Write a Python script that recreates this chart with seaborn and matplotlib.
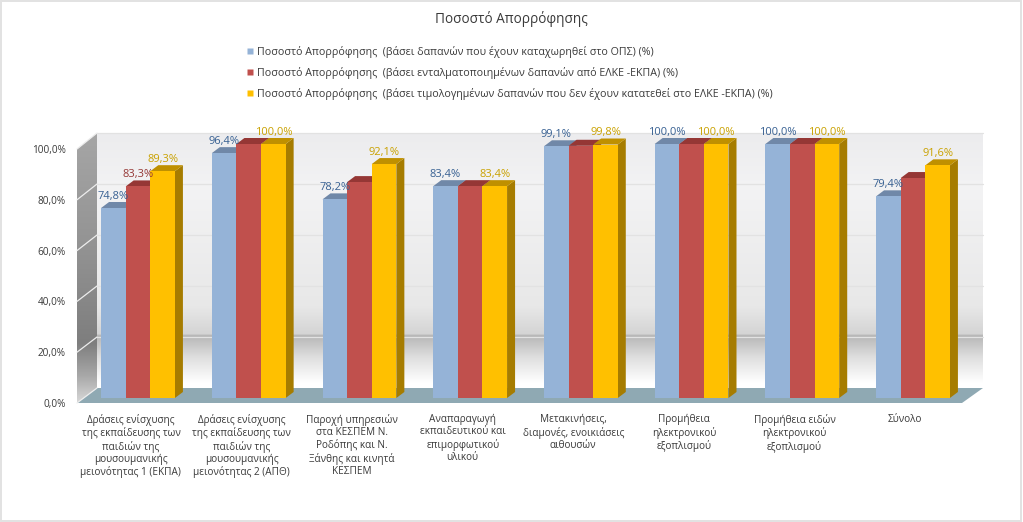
import numpy as np
import pandas as pd
import matplotlib
matplotlib.use("Agg")
import matplotlib.pyplot as plt
from matplotlib.colors import LinearSegmentedColormap
from matplotlib.patches import Polygon, Rectangle
from matplotlib.lines import Line2D
import seaborn as sns

categories = [
    "Δράσεις ενίσχυσης\nτης εκπαίδευσης των\nπαιδιών της\nμουσουμανικής\nμειονότητας 1 (ΕΚΠΑ)",
    "Δράσεις ενίσχυσης\nτης εκπαίδευσης των\nπαιδιών της\nμουσουμανικής\nμειονότητας 2 (ΑΠΘ)",
    "Παροχή υπηρεσιών\nστα ΚΕΣΠΕΜ Ν.\nΡοδόπης και Ν.\nΞάνθης και κινητά\nΚΕΣΠΕΜ",
    "Αναπαραγωγή\nεκπαιδευτικού και\nεπιμορφωτικού\nυλικού",
    "Μετακινήσεις,\nδιαμονές, ενοικιάσεις\nαιθουσών",
    "Προμήθεια\nηλεκτρονικού\nεξοπλισμού",
    "Προμήθεια ειδών\nηλεκτρονικού\nεξοπλισμού",
    "Σύνολο",
]
series_names = [
    "Ποσοστό Απορρόφησης  (βάσει δαπανών που έχουν καταχωρηθεί στο ΟΠΣ) (%)",
    "Ποσοστό Απορρόφησης  (βάσει ενταλματοποιημένων δαπανών από ΕΛΚΕ -ΕΚΠΑ) (%)",
    "Ποσοστό Απορρόφησης  (βάσει τιμολογημένων δαπανών που δεν έχουν κατατεθεί στο ΕΛΚΕ -ΕΚΠΑ) (%)",
]
values_ops = [74.8, 96.4, 78.2, 83.4, 99.1, 100.0, 100.0, 79.4]
values_elke = [83.3, 100.0, 85.0, 83.4, 99.3, 100.0, 100.0, 86.6]
values_invoiced = [89.3, 100.0, 92.1, 83.4, 99.8, 100.0, 100.0, 91.6]
# which labels the original chart shows for each series
labelled = [[True] * 8, [True] + [False] * 7, [True] * 8]
y_ticks = [0, 20, 40, 60, 80, 100]
title = "Ποσοστό Απορρόφησης"

front_cols = ["#95B3D7", "#C0504D", "#FFC000"]
top_cols = ["#7088A8", "#953735", "#BF9000"]
side_cols = ["#7088A8", "#8F3A38", "#A67C00"]
label_cols = ["#376092", "#953735", "#C9A100"]
text_col = "#3A3A3A"
FONT = "Open Sans"

W, H = 1023, 522
sns.set_theme(style="white")
plt.rcParams["font.family"] = [FONT, "DejaVu Sans"]
fig = plt.figure(figsize=(W / 100, H / 100), dpi=100, facecolor="white")


def axes_px(x0, x1, ytop, ybot):
    return fig.add_axes([x0 / W, 1 - ybot / H, (x1 - x0) / W, (ybot - ytop) / H])


# ---- backdrop (pixel coordinates)
bg = fig.add_axes([0, 0, 1, 1], zorder=0)
bg.set_xlim(0, W)
bg.set_ylim(H, 0)
bg.axis("off")
bg.add_patch(Rectangle((0.5, 0.5), W - 2.5, H - 2, fill=False, ec="#E2E2E2", lw=1.4))

wall_x0, wall_x1, wall_top, wall_bot = 97, 983, 133, 388
wall_cm = LinearSegmentedColormap.from_list(
    "wall",
    [(0, "#ECECEE"), (0.22, "#F3F3F4"), (0.68, "#E8E8E8"), (0.79, "#D4D4D4"),
     (0.795, "#B6B6B6"), (0.88, "#DEDEDE"), (0.98, "#FFFFFF"), (1, "#FFFFFF")],
)
bg.imshow(np.linspace(0, 1, 256)[:, None], cmap=wall_cm, aspect="auto",
          extent=(wall_x0, wall_x1, wall_bot, wall_top), zorder=1)
side_cm = LinearSegmentedColormap.from_list(
    "side",
    [(0, "#A6A6A6"), (0.4, "#949494"), (0.78, "#7E7E7E"), (0.9, "#A8A8A8"), (1, "#D8D8D8")],
)
im = bg.imshow(np.linspace(0, 1, 256)[:, None], cmap=side_cm, aspect="auto",
               extent=(77, 97, 403, 133), zorder=1)
im.set_clip_path(Polygon([(77, 149), (97, 133), (97, 388), (77, 403)],
                         transform=bg.transData))
bg.add_patch(Polygon([(77, 403), (962, 403), (983, 388), (97, 388)],
                     fc="#8FA9B3", ec="none", zorder=2))
bg.set_xlim(0, W)
bg.set_ylim(H, 0)
for frac in y_ticks:
    yb = wall_bot - (wall_bot - wall_top) * frac / 100
    yf = 403 - 254 * frac / 100
    if frac:
        bg.plot([wall_x0, wall_x1], [yb, yb], color="#E2E2E2", lw=0.9, zorder=2)
    bg.plot([77, wall_x0], [yf, yb], color="#EDEDED", lw=0.9, zorder=3)

# ---- front plane: tick labels
x_step = (913 - 138) / 7
front = axes_px(131 - x_step / 2, 905 + x_step / 2, 149, 403)
front.patch.set_alpha(0)
front.set_zorder(1)
front.set_xlim(-0.5, len(categories) - 0.5)
front.set_ylim(0, 100)
front.set_yticks(y_ticks, [f"{t:.1f}%".replace(".", ",") for t in y_ticks])
front.set_xticks(range(len(categories)), categories, linespacing=1.14)
front.tick_params(axis="y", length=0, pad=7, labelsize=7.2, labelcolor=text_col)
front.tick_params(axis="x", length=0, pad=8, labelsize=7.2, labelcolor=text_col)
for s in front.spines.values():
    s.set_visible(False)
front.grid(False)

# ---- bars
ax = axes_px(138 - x_step / 2, 913 + x_step / 2, 144, 398)
ax.patch.set_alpha(0)
ax.set_zorder(2)
df = pd.DataFrame({
    "category": categories * 3,
    "series": np.repeat(series_names, len(categories)),
    "value": values_ops + values_elke + values_invoiced,
})
sns.barplot(data=df, x="category", y="value", hue="series", ax=ax,
            palette=front_cols, width=0.667, gap=0, saturation=1, legend=False)
ax.set_xlim(-0.5, len(categories) - 0.5)
ax.set_ylim(0, 100)
ax.axis("off")

depth_x = 8 / x_step
depth_y = 6 / 2.54
for j, cont in enumerate(ax.containers):
    for k, bar in enumerate(cont.patches):
        bar.set_edgecolor("none")
        bar.set_zorder(3 + 2 * j)
        x0, w, h = bar.get_x(), bar.get_width(), bar.get_height()
        x1 = x0 + w
        top = [(x0, h), (x1, h), (x1 + depth_x, h + depth_y), (x0 + depth_x, h + depth_y)]
        side = [(x1, 0), (x1 + depth_x, depth_y), (x1 + depth_x, h + depth_y), (x1, h)]
        ax.add_patch(Polygon(side, fc=side_cols[j], ec="none", zorder=2 + 2 * j, clip_on=False))
        ax.add_patch(Polygon(top, fc=top_cols[j], ec="none", zorder=2 + 2 * j, clip_on=False))
        if labelled[j][k]:
            ax.annotate(f"{h:.1f}%".replace(".", ","), (x0 + w / 2, h), xytext=(0, 12),
                        textcoords="offset pixels", ha="center", va="center",
                        fontsize=8.0, color=label_cols[j], zorder=20, annotation_clip=False)

# ---- title and legend
fig.text(511 / W, 1 - 19 / H, title, ha="center", va="center", fontsize=9.8, color=text_col)
handles = [Line2D([], [], ls="none", marker="s", ms=4.6, mfc=c, mec="none") for c in front_cols]
fig.legend(handles, series_names, loc="upper left", bbox_to_anchor=(245 / W, 1 - 46 / H),
           frameon=False, fontsize=7.7, labelcolor=text_col, labelspacing=0.83,
           handletextpad=0.15, handlelength=1.0, borderpad=0, borderaxespad=0)

fig.savefig("out.png", dpi=100, facecolor="white")
